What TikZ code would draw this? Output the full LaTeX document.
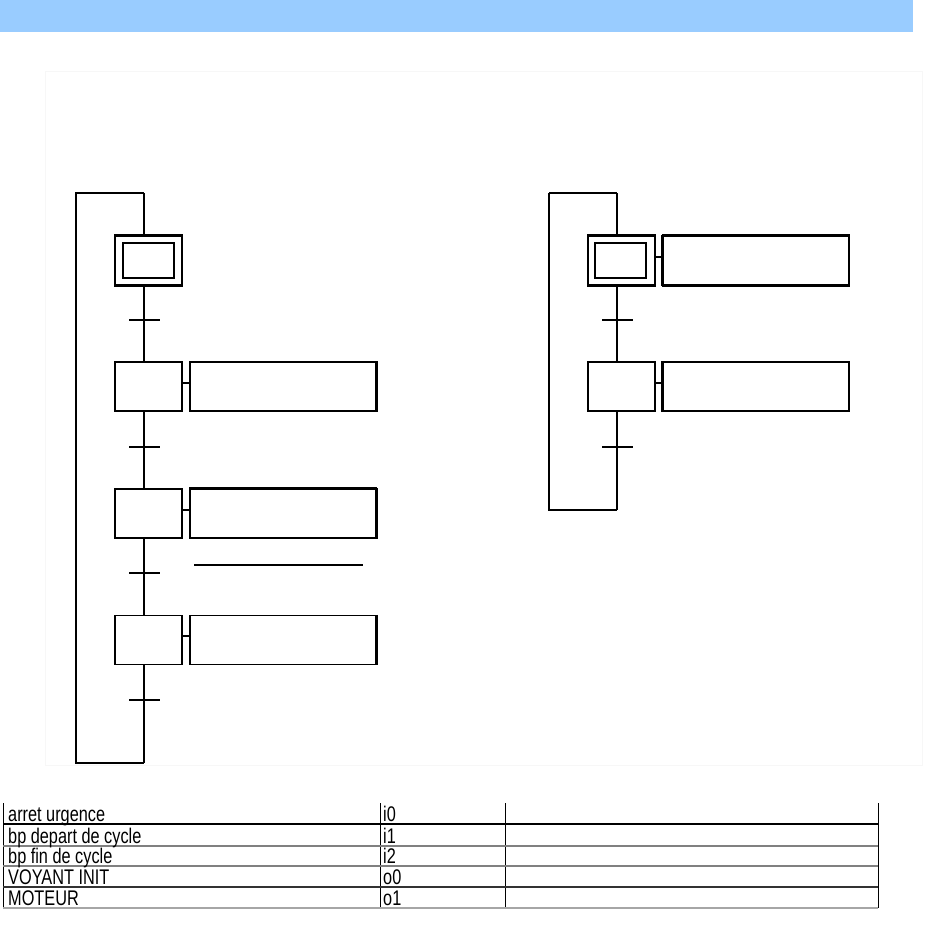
\documentclass[tikz,border=0pt]{standalone}
\usepackage{fontspec}
\setmainfont{Liberation Sans}
\usetikzlibrary{calc}
\definecolor{bandeau}{RGB}{153,204,255}
\tikzset{
  etape/.style={draw,rectangle,minimum width=67pt,minimum height=49pt,inner sep=0pt,line width=1.1pt},
  action/.style={draw,rectangle,minimum width=186pt,minimum height=49pt,inner sep=0pt,line width=1.1pt},
  fin/.style={line width=1.1pt},
  epais/.style={line width=2.2pt},
  cellule/.style={anchor=base west,inner sep=0pt,font=\fontsize{16.3}{18}\selectfont}
}
\newcommand{\haut}[1]{\scalebox{1}[1.3]{#1}}
\begin{document}
\begin{tikzpicture}[x=1pt,y=-1pt]
  \useasboundingbox (0,0) rectangle (930,945);

  %----------------------
  % Bandeau et cadre
  %----------------------
  \fill[bandeau] (0,0) rectangle (913,32);
  \draw[gray!6,line width=0.8pt] (45,71) rectangle (922,765);

  %----------------------
  % Grafcet de gauche
  %----------------------
  \def\xa{144}   % ligne d'evolution
  \def\xb{76}    % ligne de retour
  \node[etape,line width=1.1pt] (g0) at (148.5,260.5) {};
  \node[draw,rectangle,minimum width=51pt,minimum height=35pt,line width=2pt] (g0in) at (148,260.5) {};
  \draw[epais] (g0.north west) -- (g0.north east) (g0.south west) -- (g0.south east);
  \node[etape] (g1) at (148.5,386.5) {};
  \node[etape] (g2) at (148.5,513.5) {};
  \node[etape] (g3) at (148.5,640) {};

  \node[action] (a1) at (283,386.5) {};
  \node[action] (a2) at (283,513.5) {};
  \node[action] (a3) at (283,640) {};
  \foreach \a in {a1,a2,a3}
    \draw[epais] (\a.north east) -- (\a.south east);
  \draw[epais] (a2.north west) -- (a2.north east);

  % liaisons etape - action
  \draw[fin] (g1.east |- 0,383) -- (a1.west |- 0,383);
  \draw[epais] (g2.east |- 0,510) -- (a2.west |- 0,510);
  \draw[fin] (g3.east |- 0,636) -- (a3.west |- 0,636);

  % ligne d'evolution
  \coordinate (gh) at (\xa,193);
  \coordinate (gb) at (\xa,763);
  \draw[epais] (gh) -- (\xa,0 |- g0.north);
  \draw[epais] (\xa,0 |- g0.south) -- (\xa,0 |- g1.north);
  \draw[epais] (\xa,0 |- g1.south) -- (\xa,0 |- g2.north);
  \draw[epais] (\xa,0 |- g2.south) -- (\xa,0 |- g3.north);
  \draw[epais] (\xa,0 |- g3.south) -- (gb);
  % retour
  \draw[fin] (gh) -- (\xb,193) -- (\xb,763) -- (gb);

  % transitions
  \draw[fin] (129,320) -- (160,320);
  \draw[epais] (129,447) -- (160,447);
  \draw[fin] (129,573) -- (160,573);
  \draw[epais] (129,700) -- (160,700);
  \draw[epais] (194,565) -- (363,565);

  %----------------------
  % Grafcet de droite
  %----------------------
  \def\xc{617}
  \def\xd{549}
  \node[etape] (d0) at (621.5,260.5) {};
  \node[draw,rectangle,minimum width=51pt,minimum height=35pt,line width=2pt] (d0in) at (620.5,260.5) {};
  \draw[epais] (d0.north west) -- (d0.north east) (d0.south west) -- (d0.south east);
  \node[etape] (d1) at (621.5,386.5) {};

  \node[action] (b0) at (756,260.5) {};
  \node[action] (b1) at (756,386.5) {};
  \draw[epais] (b0.north west) -- (b0.north east) (b0.south west) -- (b0.south east);
  \foreach \b in {b0,b1}
    \draw[epais] (\b.north west) -- (\b.south west);

  \draw[epais] (d0.east |- 0,257) -- (b0.west |- 0,257);
  \draw[fin] (d1.east |- 0,383) -- (b1.west |- 0,383);

  \coordinate (dh) at (\xc,193);
  \coordinate (db) at (\xc,510);
  \draw[fin] (dh) -- (\xc,0 |- d0.north);
  \draw[fin] (\xc,0 |- d0.south) -- (\xc,0 |- d1.north);
  \draw[fin] (\xc,0 |- d1.south) -- (db);
  \draw[fin] (dh) -- (\xd,193);
  \draw[epais] (\xd,193) -- (\xd,510) -- (db);

  \draw[fin] (602,320) -- (633,320);
  \draw[epais] (602,447) -- (633,447);

  %----------------------
  % Table des variables
  %----------------------
  \draw[line width=0.9pt] (3,803) -- (3,908) (380,803) -- (380,908) (505,803) -- (505,908) (878,803) -- (878,908);
  \draw[line width=1.2pt] (3,824) -- (878,824);
  \draw[line width=1.2pt,gray] (3,846) -- (878,846);
  \draw[line width=1.2pt,gray] (3,866) -- (878,866);
  \draw[line width=1.2pt,black!80] (3,887) -- (878,887);
  \draw[line width=1.2pt,gray!70] (3,908) -- (878,908);
  \foreach \nom/\var/\y [count=\i from 0] in {arret urgence/i0/821,bp depart de cycle/i1/843,bp fin de cycle/i2/863,VOYANT INIT/o0/884,MOTEUR/o1/905}{
    \node[cellule] (n\i) at (8,\y) {\haut{\nom}};
    \node[cellule] (v\i) at (383,\y) {\haut{\var}};
  }

\end{tikzpicture}
\end{document}
